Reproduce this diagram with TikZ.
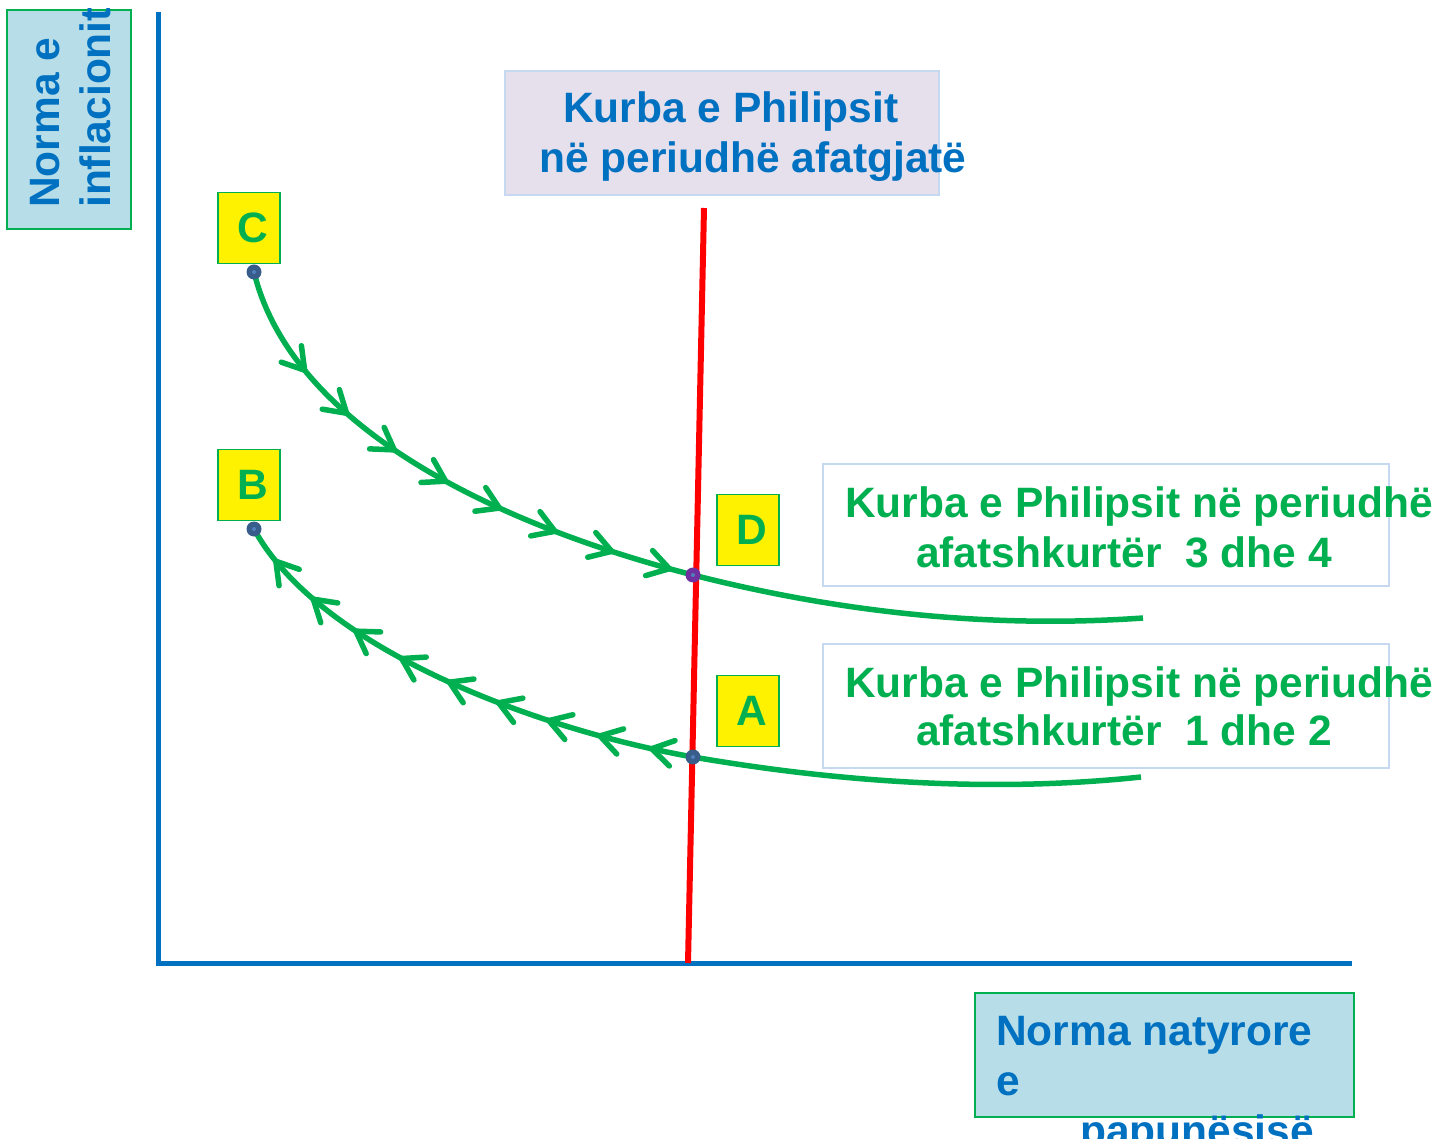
\documentclass[tikz,border=0pt]{standalone}
\usepackage{fontspec}
\setmainfont{Liberation Sans}
\usetikzlibrary{decorations.markings}

\definecolor{azul}{HTML}{0070C0}
\definecolor{verde}{HTML}{00B050}
\definecolor{celeste}{HTML}{B7DEE8}
\definecolor{lila}{HTML}{E5E0EC}
\definecolor{borde}{HTML}{C6D9F1}
\definecolor{puntoaz}{HTML}{385D8A}
\definecolor{puntocl}{HTML}{4F81BD}
\definecolor{puntomo}{HTML}{7030A0}

\tikzset{
  texto/.style={font=\fontsize{42.5}{50}\selectfont\bfseries, inner sep=0pt, anchor=base west},
  letra/.style={draw=verde, line width=1.5pt, fill=yellow, minimum width=62pt, minimum height=71pt,
    inner sep=0pt, text=verde, font=\fontsize{42.5}{50}\selectfont\bfseries},
  caja/.style={draw=borde, line width=2pt, inner sep=0pt},
  eje/.style={draw=verde, line width=2pt, fill=celeste, inner sep=0pt},
  curva/.style={color=verde, line width=5.5pt},
  flechas/.style n args={3}{decoration={markings,
    mark=between positions #1 and #2 step #3 with {\draw[verde, line width=5.5pt, line cap=round]
      (-21pt,-13pt) -- (0pt,0pt) -- (-21pt,13pt);}},
    postaction={decorate}}
}

\begin{document}
\begin{tikzpicture}[x=1pt,y=-1pt]
    \useasboundingbox (0,0) rectangle (1441,1139);

    % Ejes
    \coordinate (ytop) at (158,12);
    \coordinate (O) at (158,963);
    \coordinate (xend) at (1352,963);
    \draw[azul, line width=5pt] (ytop) -- (O) -- (xend);

    % Largo plazo
    \coordinate (ltop) at (704,208);
    \coordinate (lbot) at (688,963);
    \draw[red, line width=6pt] (ltop) -- (lbot);

    % Puntos
    \coordinate (pC) at (254,272);
    \coordinate (pB) at (254,529);
    \coordinate (pD) at (693,575);
    \coordinate (pA) at (693,757);
    \coordinate (fin34) at (1143,618);
    \coordinate (fin12) at (1141,777);

    % Corto plazo
    \draw[curva, flechas={0.2}{0.96}{0.108}] (pC) .. controls (290,420) and (480,520) .. (pD);
    \draw[curva] (pD) .. controls (850,615) and (1000,628) .. (fin34);
    \draw[curva, flechas={0.083}{0.93}{0.105}] (pA) .. controls (540,730) and (320,650) .. (pB);
    \draw[curva] (pA) .. controls (850,784) and (1000,792) .. (fin12);

    \foreach \p in {pC,pB,pA} {
      \fill[puntoaz] (\p) circle (7.5);
      \fill[puntocl] (\p) circle (2);
    }
    \fill[puntomo] (pD) circle (7.5);
    \fill[puntocl] (pD) circle (2);

    % Letras
    \node[letra] (C) at (249,228) {\hspace*{8pt}C};
    \node[letra] (B) at (249,485) {\hspace*{8pt}B};
    \node[letra] (D) at (748,530) {\hspace*{8pt}D};
    \node[letra] (A) at (748,711) {\hspace*{8pt}A};

    % Rotulos
    \node[caja, fill=lila, minimum width=434pt, minimum height=124pt] (lp) at (722,133) {};
    \node[texto, text=azul] (lp1) at (563,123) {Kurba e Philipsit};
    \node[texto, text=azul] (lp2) at (539,173) {në periudhë afatgjatë};

    \node[caja, fill=white, minimum width=566pt, minimum height=122pt] (cp34) at (1106,525) {};
    \node[texto, text=verde] (cp34a) at (845,517) {Kurba e Philipsit në periudhë};
    \node[texto, text=verde] (cp34b) at (916,567) {afatshkurtër\ \ 3 dhe 4};

    \node[caja, fill=white, minimum width=566pt, minimum height=124pt] (cp12) at (1106,706) {};
    \node[texto, text=verde] (cp12a) at (845,697) {Kurba e Philipsit në periudhë};
    \node[texto, text=verde] (cp12b) at (916,745) {afatshkurtër\ \ 1 dhe 2};

    % Ejes: nombres
    \node[eje, minimum width=124pt, minimum height=219pt] (ylab) at (69,119.5) {};
    \begin{scope}
      \clip (ylab.south west) rectangle (ylab.north east);
      \node[texto, text=azul, rotate=90] (ylab1) at (59,208) {Norma e};
      \node[texto, text=azul, rotate=90] (ylab2) at (110,208) {inflacionit};
    \end{scope}

    \node[eje, minimum width=379pt, minimum height=124pt] (xlab) at (1164.5,1055) {};
    \node[texto, text=azul] (xlab1) at (996,1045) {Norma natyrore};
    \node[texto, text=azul] (xlab2) at (996,1095) {e};
    \node[texto, text=azul] (xlab3) at (1080,1145) {papunësisë};
\end{tikzpicture}
\end{document}
